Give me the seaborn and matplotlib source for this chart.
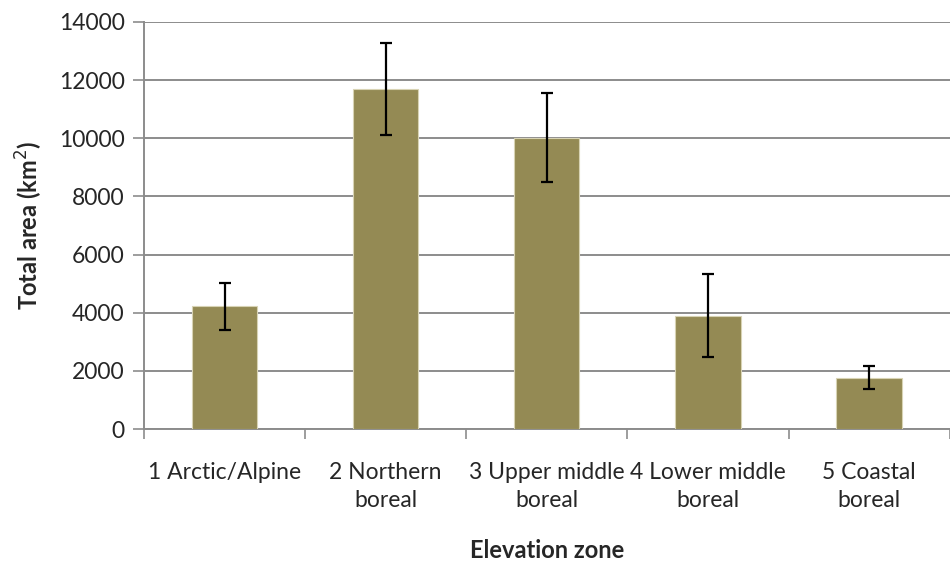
import matplotlib
matplotlib.use("Agg")
import matplotlib.pyplot as plt
import seaborn as sns
import pandas as pd
import numpy as np

categories = ["1 Arctic/Alpine", "2 Northern\nboreal", "3 Upper middle\nboreal",
              "4 Lower middle\nboreal", "5 Coastal\nboreal"]
values = [4220, 11700, 10010, 3900, 1760]
errors = [800, 1580, 1530, 1430, 400]
yticks = [0, 2000, 4000, 6000, 8000, 10000, 12000, 14000]

sns.set_theme(style="white")
plt.rcParams['font.family'] = ['Lato', 'DejaVu Sans']

df = pd.DataFrame({"zone": categories, "area": values})

fig = plt.figure(figsize=(9.5, 5.63), dpi=100)
ax = fig.add_axes([0.1516, 0.238, 0.848, 0.723])

sns.barplot(data=df, x="zone", y="area", color="#948A54", saturation=1,
            width=0.405, edgecolor="#d8d3b4", linewidth=0.8, ax=ax, zorder=3)
ax.errorbar(np.arange(len(values)), values, yerr=errors, fmt="none",
            ecolor="black", elinewidth=1.6, capsize=4.5, capthick=1.6, zorder=4)

ax.set_ylim(0, 14000)
ax.set_xlim(-0.5, len(categories) - 0.5)
ax.set_yticks(yticks)
ax.set_yticklabels([str(t) for t in yticks], fontsize=16.5)
ax.yaxis.grid(True, color="#8c8c8c", linewidth=1.4, zorder=0)
ax.set_axisbelow(True)

ax.set_xticks(np.arange(len(categories)))
ax.set_xticklabels(categories, fontsize=16.5, linespacing=1.4)
ax.set_xticks(np.arange(-0.5, len(categories)), minor=True)
ax.tick_params(axis="x", which="major", length=0, pad=24)
ax.tick_params(axis="x", which="minor", length=7, width=1.2, color="#8c8c8c", direction="out", bottom=True)
ax.tick_params(axis="y", which="major", length=8, width=1.2, color="#8c8c8c", direction="out", left=True, pad=6)

for s in ["top", "right"]:
    ax.spines[s].set_visible(False)
for s in ["left", "bottom"]:
    ax.spines[s].set_color("#8c8c8c")
    ax.spines[s].set_linewidth(1.4)

ax.set_xlabel("Elevation zone", fontsize=17, fontweight="bold", labelpad=20)
ax.set_ylabel("Total area (km$^2$)", fontsize=17, fontweight="bold", labelpad=10)

fig.savefig("out.png", dpi=100)
